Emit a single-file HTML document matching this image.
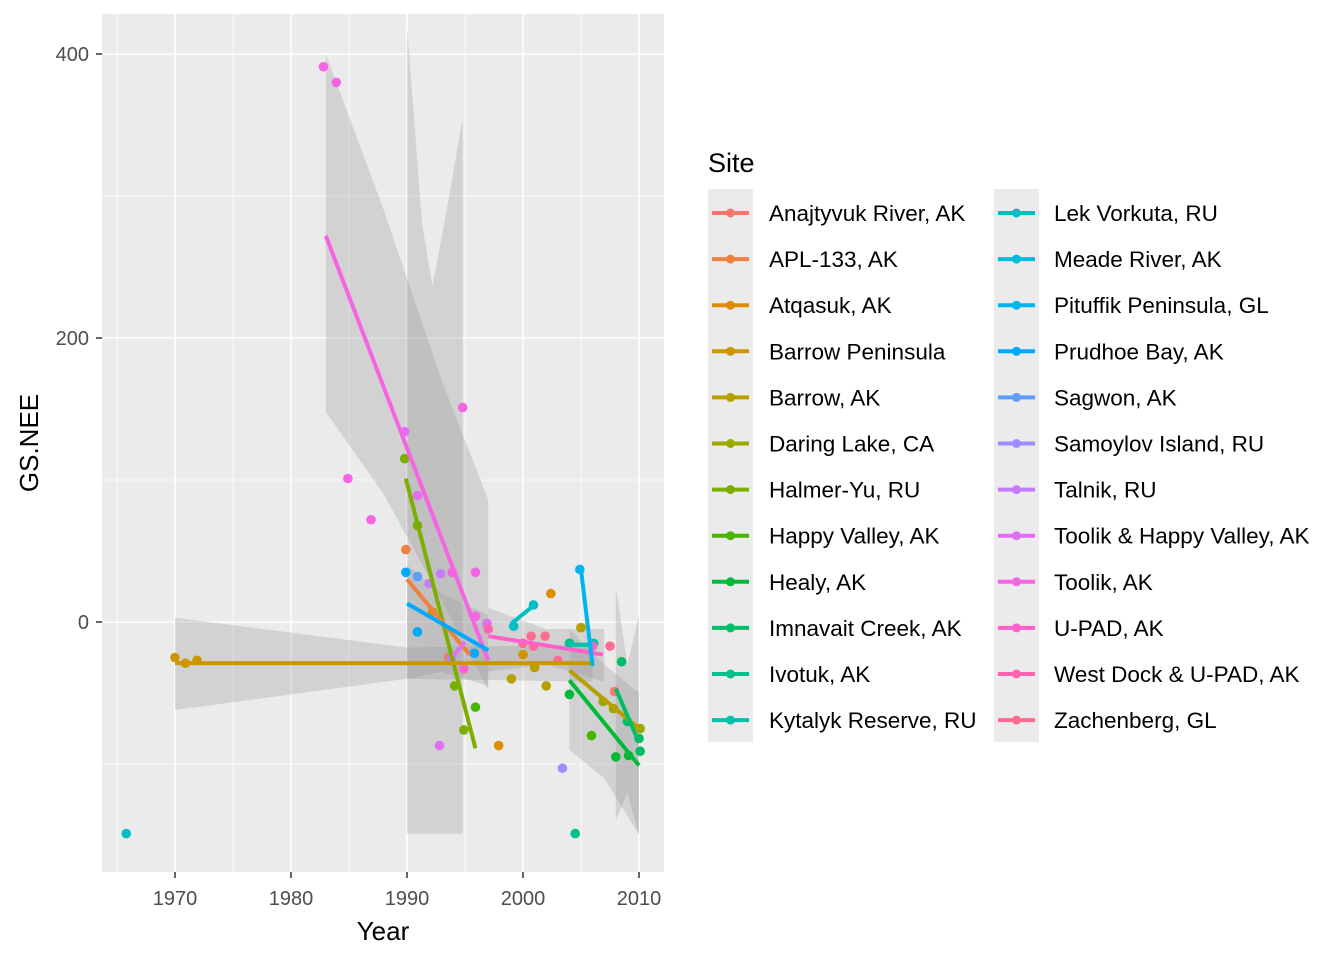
<!DOCTYPE html>
<html><head><meta charset="utf-8"><style>
body{margin:0;background:#fff;font-family:"Liberation Sans",sans-serif}
svg{display:block}
</style></head><body>
<svg id="chart" width="1344" height="960" xmlns="http://www.w3.org/2000/svg"><defs><clipPath id="pc"><rect x="102" y="14" width="562" height="858"/></clipPath></defs></svg>
<script>
const sites=["Anajtyvuk River, AK","APL-133, AK","Atqasuk, AK","Barrow Peninsula","Barrow, AK","Daring Lake, CA","Halmer-Yu, RU","Happy Valley, AK","Healy, AK","Imnavait Creek, AK","Ivotuk, AK","Kytalyk Reserve, RU","Lek Vorkuta, RU","Meade River, AK","Pituffik Peninsula, GL","Prudhoe Bay, AK","Sagwon, AK","Samoylov Island, RU","Talnik, RU","Toolik & Happy Valley, AK","Toolik, AK","U-PAD, AK","West Dock & U-PAD, AK","Zachenberg, GL"];
// points: site index, year, GS.NEE
const ptSite=[20,20,20,20,20,20,19,6,19,6,1,15,16,18,18,20,20,19,15,2,12,12,2,4,14,14,23,9,0,4,10,11,23,23,23,3,23,23,4,4,4,2,8,7,8,8,9,9,9,5,5,5,19,17,10,12,6,6,7,1,21,18,15,3,3,3,22,21];
const ptYear=[1982.8,1983.9,1984.9,1986.9,1994.8,1995.9,1989.8,1989.8,1990.9,1990.9,1989.9,1989.9,1990.9,1991.9,1992.9,1993.9,1995.9,1996.9,1990.9,1992.2,1999.2,2000.9,2002.4,2005,2004.9,2006,2007.5,2008.5,2007.9,2005,2004,2006.1,2000.7,2001.9,2000,2000,2003,2000.9,2002,1999,2001,1997.9,2004,2005.9,2009.1,2008,2009,2010.1,2010,2010.1,2006.9,2007.8,1992.8,2003.4,2004.5,1965.8,1994.1,1994.9,1995.9,1993.6,1994.9,1993.8,1995.8,1970,1970.9,1971.9,1997,2006];
const ptVal=[391,380,101,72,151,35,134,115,89,68,51,35,32,27,34,35,4,-1,-7,7,-3,12,20,-4,37,-16,-17,-28,-49,-4,-15,-15,-10,-10,-15,-23,-27,-17,-45,-40,-32,-87,-51,-80,-94,-95,-70,-91,-82,-75,-56,-61,-87,-103,-149,-149,-45,-76,-60,-25,-33,-26,-22,-25,-29,-27,-5,-17];
// fitted lines: site, x0, y0, x1, y1
const lnSite=[20,6,1,15,19,21,3,12,11,14,4,8,9];
const lnX0=[1983,1989.9,1990,1990,1994,1997,1970,1999,2004,2005,2004,2004,2008];
const lnY0=[272,101,30,13,-24,-10,-29,-1,-16,37,-34,-41,-47];
const lnX1=[1997,1995.9,1995.4,1997,1995,2006.9,2005.9,2001,2006,2006,2010,2010,2010];
const lnY1=[-27,-89,-23,-20,-14,-23,-29,12,-16,-31,-75,-101,-85];
// confidence ribbons: years, lower, upper
const rbYears=[[1970,1990,2006],[1983,1988,1993,1997],[1990,1991.3,1992.2,1993.2,1994.8],[2004,2007,2010],[2008,2009,2010],[1990,1993,1997],[1997,2002,2007]];
const rbLo=[[-62,-40,-42],[148,90,15,-48],[-149,-149,-149,-149,-149],[-90,-110,-150],[-140,-120,-150],[-40,-35,-45],[-35,-30,-42]];
const rbHi=[[3,-18,-16],[400,290,170,86],[420,280,237,280,355],[-5,-30,-50],[25,-30,5],[40,20,5],[10,-5,-5]];

const xTicks=[1970,1980,1990,2000,2010];
const yTicks=[0,200,400];
const X=y=>175+(y-1970)*11.6, Y=v=>622-v*1.42;
const NS="http://www.w3.org/2000/svg", svg=document.getElementById('chart');
function mk(t,a,p){const e=document.createElementNS(NS,t);for(const k in a)e.setAttribute(k,a[k]);(p||svg).appendChild(e);return e;}
function hcl(h){const L=65,C=100,hr=h*Math.PI/180;const Yv=Math.pow((L+16)/116,3);const Xn=0.95047,Yn=1,Zn=1.08883;
const un=4*Xn/(Xn+15*Yn+3*Zn),vn=9*Yn/(Xn+15*Yn+3*Zn);const u=C*Math.cos(hr)/(13*L)+un,v=C*Math.sin(hr)/(13*L)+vn;
const Xx=Yv*9*u/(4*v),Zz=Yv*(12-3*u-20*v)/(4*v);
let r=3.2406*Xx-1.5372*Yv-0.4986*Zz,g=-0.9689*Xx+1.8758*Yv+0.0415*Zz,b=0.0557*Xx-0.2040*Yv+1.0570*Zz;
const gm=c=>{c=c<=0.0031308?12.92*c:1.055*Math.pow(c,1/2.4)-0.055;return Math.round(255*Math.max(0,Math.min(1,c)));};
return `rgb(${gm(r)},${gm(g)},${gm(b)})`;}
const col=i=>hcl(15+360*i/sites.length);

const panel=mk('rect',{x:102,y:14,width:562,height:858,fill:'#ebebeb'});


[1965,1975,1985,1995,2005].forEach(t=>mk('line',{x1:X(t),x2:X(t),y1:14,y2:872,stroke:'#fff','stroke-width':0.8}));
[-100,100,300].forEach(t=>mk('line',{x1:102,x2:664,y1:Y(t),y2:Y(t),stroke:'#fff','stroke-width':0.8}));
xTicks.forEach(t=>{mk('line',{x1:X(t),x2:X(t),y1:14,y2:872,stroke:'#fff','stroke-width':1.6});mk('line',{x1:X(t),x2:X(t),y1:872,y2:878,stroke:'#333','stroke-width':1.5});
const tx=mk('text',{x:X(t),y:905,'text-anchor':'middle','font-size':20,fill:'#4d4d4d'});tx.textContent=t;

});
yTicks.forEach(t=>{mk('line',{x1:102,x2:664,y1:Y(t),y2:Y(t),stroke:'#fff','stroke-width':1.6});mk('line',{x1:96,x2:102,y1:Y(t),y2:Y(t),stroke:'#333','stroke-width':1.5});
const tx=mk('text',{x:89,y:Y(t)+7,'text-anchor':'end','font-size':20,fill:'#4d4d4d'});tx.textContent=t;

});
const gp=mk('g',{'clip-path':'url(#pc)'});
rbYears.forEach((ys,i)=>{let pts=ys.map((y,j)=>X(y)+','+Y(rbHi[i][j]));pts=pts.concat(ys.slice().reverse().map((y,j)=>X(y)+','+Y(rbLo[i][ys.length-1-j])));
const p=mk('polygon',{points:pts.join(' '),fill:'#999','fill-opacity':0.3},gp);

});
ptSite.forEach((s,i)=>{const c=mk('circle',{cx:X(ptYear[i]),cy:Y(ptVal[i]),r:4.8,fill:col(s)},gp);

});
lnSite.forEach((s,i)=>{const l=mk('line',{x1:X(lnX0[i]),y1:Y(lnY0[i]),x2:X(lnX1[i]),y2:Y(lnY1[i]),stroke:col(s),'stroke-width':4},gp);

});
let t=mk('text',{x:383,y:940,'text-anchor':'middle','font-size':26,fill:'#000'});t.textContent='Year';


t=mk('text',{x:0,y:0,transform:'translate(38,443) rotate(-90)','text-anchor':'middle','font-size':26,fill:'#000'});t.textContent='GS.NEE';


t=mk('text',{x:708,y:172,'font-size':27,fill:'#000'});t.textContent='Site';


mk('rect',{x:708,y:189,width:45,height:553,fill:'#ebebeb'});
mk('rect',{x:994,y:189,width:45,height:553,fill:'#ebebeb'});
sites.forEach((s,i)=>{const c=i<12?0:1,r=i%12;const kx=c?994:708,tx=c?1054:769,cy=213+r*46.1;
const g=mk('g',{});


mk('line',{x1:kx+4,x2:kx+41,y1:cy,y2:cy,stroke:col(i),'stroke-width':4},g);
mk('circle',{cx:kx+22.5,cy:cy,r:4.5,fill:col(i)},g);
const tt=mk('text',{x:tx,y:cy+8,'font-size':22.5,fill:'#000'},g);tt.textContent=s;});
</script>
</body></html>
